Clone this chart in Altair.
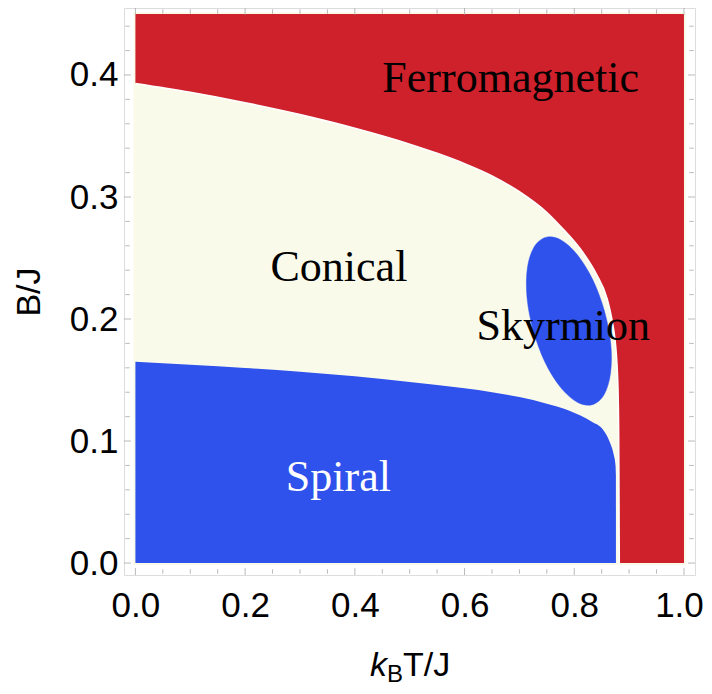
import altair as alt
import pandas as pd

# ---- data ----
# Ferromagnetic / Conical boundary (upper phase boundary)
ferro_T = [0.0, 0.10, 0.20, 0.30, 0.40, 0.50, 0.55, 0.60, 0.65, 0.70, 0.75,
           0.78, 0.81, 0.84, 0.86, 0.865, 0.870, 0.874, 0.877, 0.879, 0.880, 0.881, 0.882, 1.0]
ferro_B = [0.393, 0.3858, 0.3773, 0.3675, 0.3563, 0.3433, 0.3358, 0.3273, 0.3173, 0.3043, 0.2873,
           0.2735, 0.2580, 0.2370, 0.2165, 0.2074, 0.1960, 0.1840, 0.1690, 0.1520, 0.1360, 0.1000, 0.0, 0.0]

# Spiral / Conical boundary (lower phase boundary)
spiral_T = [0.0, 0.10, 0.20, 0.30, 0.40, 0.50, 0.60, 0.65, 0.70, 0.75, 0.79, 0.8328,
            0.8525, 0.8641, 0.8720, 0.8751, 0.8759, 0.876]
spiral_B = [0.165, 0.1626, 0.1599, 0.1568, 0.1530, 0.1484, 0.1432, 0.1400, 0.1360, 0.1305, 0.1250, 0.1155,
            0.1092, 0.0998, 0.0887, 0.0806, 0.0721, 0.0]

# Skyrmion pocket outline (closed)
sky_T = [0.8328, 0.8545, 0.8661, 0.8665, 0.8550, 0.8338, 0.8059, 0.7757,
         0.7477, 0.7261, 0.7144, 0.7140, 0.7255, 0.7467, 0.7746, 0.8049]
sky_B = [0.1298, 0.1382, 0.1557, 0.1797, 0.2065, 0.2321, 0.2525, 0.2648,
         0.2669, 0.2585, 0.2411, 0.2170, 0.1902, 0.1646, 0.1442, 0.1320]

T_range = [0.0, 1.0]
B_range = [0.0, 0.45]

phase_names = ["Ferromagnetic", "Conical", "Skyrmion", "Spiral"]
phase_T = [0.684, 0.371, 0.780, 0.370]
phase_B = [0.386, 0.2314, 0.183, 0.0593]
phase_text_color = ["black", "black", "black", "white"]

x_label_values = [0.0, 0.2, 0.4, 0.6, 0.8, 1.0]
y_label_values = [0.0, 0.1, 0.2, 0.3, 0.4]
x_tick_values = [0.0, 0.05, 0.1, 0.15, 0.2, 0.25, 0.3, 0.35, 0.4, 0.45, 0.5,
                 0.55, 0.6, 0.65, 0.7, 0.75, 0.8, 0.85, 0.9, 0.95, 1.0]
y_tick_values = [0.0, 0.02, 0.04, 0.06, 0.08, 0.1, 0.12, 0.14, 0.16, 0.18, 0.2,
                 0.22, 0.24, 0.26, 0.28, 0.3, 0.32, 0.34, 0.36, 0.38, 0.4, 0.42, 0.44]

# ---- styling ----
RED = "#CF212B"
BLUE = "#2F51EC"
CREAM = "#FAFAEB"
FRAME = "#9c9c9c"
W, H = 571, 567

xs = alt.Scale(domain=[-0.0208, 1.0201], nice=False, zero=False)
ys = alt.Scale(domain=[-0.0098, 0.4549], nice=False, zero=False)

ferro = pd.DataFrame({"T": ferro_T, "B": ferro_B, "top": B_range[1]})
spiral = pd.DataFrame({"T": spiral_T, "B": spiral_B, "bottom": B_range[0]})
sky = pd.DataFrame({"T": sky_T, "B": sky_B, "i": list(range(len(sky_T)))})
box = pd.DataFrame({"T": [T_range[0]], "T1": [T_range[1]], "B": [B_range[0]], "B1": [B_range[1]]})
labels = pd.DataFrame({"name": phase_names, "T": phase_T, "B": phase_B, "c": phase_text_color})

xt = pd.DataFrame({"T": x_tick_values})
xt["len"] = [7 if abs(v * 5 - round(v * 5)) < 1e-9 else 4.5 for v in x_tick_values]
yt = pd.DataFrame({"B": y_tick_values})
yt["len"] = [7 if abs(v * 10 - round(v * 10)) < 1e-9 else 4.5 for v in y_tick_values]

x_axis = alt.Axis(values=x_label_values, format=".1f", labelFont="Liberation Sans",
                  labelFontSize=35, labelColor="black", labelPadding=13,
                  ticks=False, domain=False, grid=False, title=None, labelFlush=False,
                  labelOffset={"condition": {"test": "datum.value >= 0.99", "value": -5},
                               "value": 0})
y_axis = alt.Axis(values=y_label_values, format=".1f", labelFont="Liberation Sans",
                  labelFontSize=35, labelColor="black", labelPadding=6,
                  ticks=False, domain=False, grid=False, title="B/J",
                  titleFont="Liberation Sans", titleFontSize=34, titleFontWeight="normal",
                  titleColor="black", titleX=-95, titleY=H / 2, titleAngle=270,
                  titleBaseline="middle", titleAlign="center", labelFlush=False)

X = lambda f="T": alt.X(f"{f}:Q", scale=xs, axis=x_axis)
Y = lambda f="B": alt.Y(f"{f}:Q", scale=ys, axis=y_axis)

bg = alt.Chart(box).mark_rect(color=CREAM, stroke=CREAM, strokeWidth=4).encode(
    x=X(), x2="T1:Q", y=Y(), y2="B1:Q",
)

red = alt.Chart(ferro).mark_area(color=RED, interpolate="monotone").encode(
    x=X(), y=Y(), y2="top:Q",
)

edge = alt.Chart(ferro[ferro["T"] <= 0.882]).mark_line(
    color="white", strokeWidth=1.6, interpolate="monotone").encode(
    x=X(), y=Y(),
)

blue = alt.Chart(spiral).mark_area(color=BLUE, interpolate="monotone").encode(
    x=X(), y=Y(), y2="bottom:Q",
)

pocket = alt.Chart(sky).mark_line(
    fill=BLUE, stroke=BLUE, strokeWidth=0.5, interpolate="cardinal-closed").encode(
    x=X(), y=Y(), order=alt.Order("i:Q"),
)

names = alt.Chart(labels).mark_text(
    font="Liberation Serif", fontSize=44, align="center", baseline="alphabetic").encode(
    x=X(), y=Y(), text="name:N", color=alt.Color("c:N", scale=None),
)

tick_kw = dict(color=FRAME, thickness=1)
xt_bottom = alt.Chart(xt).mark_tick(**tick_kw).encode(
    x=X(), y=alt.value(H - 3.5), size=alt.Size("len:Q", scale=None),
)
xt_top = alt.Chart(xt).mark_tick(**tick_kw).encode(
    x=X(), y=alt.value(3.5), size=alt.Size("len:Q", scale=None),
)
yt_left = alt.Chart(yt).mark_tick(**tick_kw).encode(
    y=Y(), x=alt.value(3.5), size=alt.Size("len:Q", scale=None),
)
yt_right = alt.Chart(yt).mark_tick(**tick_kw).encode(
    y=Y(), x=alt.value(W - 3.5), size=alt.Size("len:Q", scale=None),
)

# x-axis title  k_B T / J  built from pieces
one = pd.DataFrame({"a": [0]})
t_k = alt.Chart(one).mark_text(text="k", font="Liberation Sans", fontSize=34,
                               fontStyle="italic", align="left", baseline="alphabetic").encode(
    x=alt.value(246), y=alt.value(668))
t_b = alt.Chart(one).mark_text(text="B", font="Liberation Sans", fontSize=24,
                               align="left", baseline="alphabetic").encode(
    x=alt.value(263), y=alt.value(674))
t_tj = alt.Chart(one).mark_text(text="T/J", font="Liberation Sans", fontSize=34,
                                align="left", baseline="alphabetic").encode(
    x=alt.value(279), y=alt.value(668))

chart = alt.layer(
    bg, red, edge, blue, pocket, names,
    xt_bottom, xt_top, yt_left, yt_right,
    t_k, t_b, t_tj,
).properties(
    width=W, height=H,
    autosize=alt.AutoSizeParams(type="none"),
    padding={"left": 116, "top": 0, "right": 9, "bottom": 111},
).configure_view(
    stroke=FRAME, strokeWidth=1.2, fill="white"
).configure(background="white")

chart.save("out.html", embed_options={"renderer": "svg", "actions": False})
